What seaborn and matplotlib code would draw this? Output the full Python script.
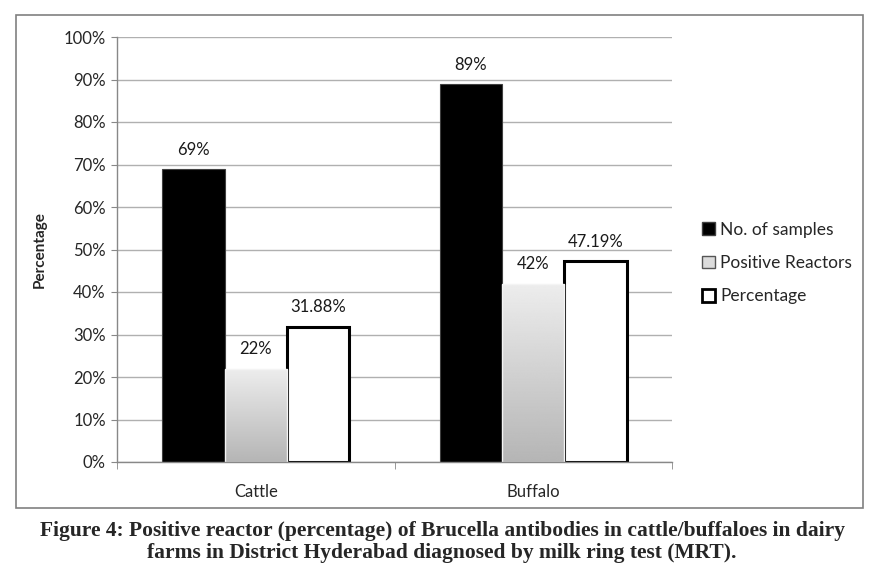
import numpy as np
import pandas as pd
import matplotlib
matplotlib.use("Agg")
import matplotlib.pyplot as plt
from matplotlib.patches import Rectangle, Patch
from matplotlib.ticker import PercentFormatter
import seaborn as sns

animals = ["Cattle", "Buffalo"]
seriesNames = ["No. of samples", "Positive Reactors", "Percentage"]
noOfSamples = [69, 89]
positiveReactors = [22, 42]
percentage = [31.88, 47.19]
labelTexts = [["69%", "89%"], ["22%", "42%"], ["31.88%", "47.19%"]]
yTicks = [0, 10, 20, 30, 40, 50, 60, 70, 80, 90, 100]
caption = ("Figure 4: Positive reactor (percentage) of Brucella antibodies in cattle/buffaloes in dairy\n"
           "farms in District Hyderabad diagnosed by milk ring test (MRT).")

rows = []
for name, values in zip(seriesNames, [noOfSamples, positiveReactors, percentage]):
    for animal, v in zip(animals, values):
        rows.append({"animal": animal, "series": name, "value": v})
df = pd.DataFrame(rows)

sns.set_style("white")
plt.rcParams['font.family'] = ['Lato', 'DejaVu Sans']

fig = plt.figure(figsize=(8.84, 5.85), dpi=100)
ax = fig.add_axes([117 / 884, 1 - 462 / 585, (672 - 117) / 884, (462 - 37) / 585])

palette = {"No. of samples": "black", "Positive Reactors": "#d0d0d0", "Percentage": "white"}
sns.barplot(data=df, x="animal", y="value", hue="series", order=animals, hue_order=seriesNames,
            palette=palette, width=0.675, gap=0, saturation=1, ax=ax, legend=False)

# style each group of bars
for container, name in zip(ax.containers, seriesNames):
    for bar in container:
        if name == "No. of samples":
            bar.set_edgecolor("#404040")
            bar.set_linewidth(0.8)
        elif name == "Positive Reactors":
            bar.set_edgecolor("#f4f4f4")
            bar.set_linewidth(1.0)
            x0, w, h = bar.get_x(), bar.get_width(), bar.get_height()
            grad = np.linspace(0.93, 0.71, 256).reshape(-1, 1)
            im = ax.imshow(grad, cmap="gray", vmin=0, vmax=1, aspect="auto",
                           extent=(x0, x0 + w, 0, h), origin="upper", zorder=bar.get_zorder())
            im.set_clip_path(bar)
            bar.set_facecolor("none")
            bar.set_zorder(bar.get_zorder() + 0.1)
        else:
            bar.set_edgecolor("black")
            bar.set_linewidth(2.2)

for container, texts in zip(ax.containers, labelTexts):
    ax.bar_label(container, labels=texts, padding=8, fontsize=12, color="#1a1a1a")

ax.set_xlim(-0.5, 1.5)
ax.set_ylim(0, 100)
ax.set_yticks(yTicks)
ax.yaxis.set_major_formatter(PercentFormatter(decimals=0))
ax.yaxis.grid(True, color="#b0b0b0", linewidth=1)
ax.set_axisbelow(True)
ax.set_xlabel("")
ax.set_ylabel("Percentage", fontsize=11, fontweight="bold", labelpad=12)
ax.tick_params(axis="y", labelsize=12, left=True, length=4, color="#888888", pad=4)
ax.tick_params(axis="x", labelsize=12, bottom=False, pad=12)
ax.set_xticks([-0.5, 0.5, 1.5], minor=True)
ax.tick_params(axis="x", which="minor", bottom=True, length=5, color="#888888")
for side in ["top", "right"]:
    ax.spines[side].set_visible(False)
for side in ["left", "bottom"]:
    ax.spines[side].set_color("#888888")
    ax.spines[side].set_linewidth(1)

handles = [Patch(facecolor="black", edgecolor="#404040", label=seriesNames[0]),
           Patch(facecolor="#dcdcdc", edgecolor="#555555", label=seriesNames[1]),
           Patch(facecolor="white", edgecolor="black", linewidth=2, label=seriesNames[2])]
fig.legend(handles=handles, loc="center left", bbox_to_anchor=(702 / 884, 1 - 263 / 585),
           frameon=False, fontsize=12.5, handlelength=0.75, handleheight=0.75,
           handletextpad=0.3, labelspacing=1.0, borderpad=0, borderaxespad=0)

# outer chart frame
fig.patches.append(Rectangle((16 / 884, 1 - 508 / 585), (863 - 16) / 884, (508 - 15) / 585,
                             transform=fig.transFigure, fill=False, edgecolor="#808080", linewidth=1.2))

fig.text(0.5, 1 - 542 / 585, caption, ha="center", va="center", fontsize=15.5,
         fontweight="bold", family=["Liberation Serif", "DejaVu Serif"], linespacing=1.12)

fig.savefig("out.png", dpi=100, facecolor="white")
